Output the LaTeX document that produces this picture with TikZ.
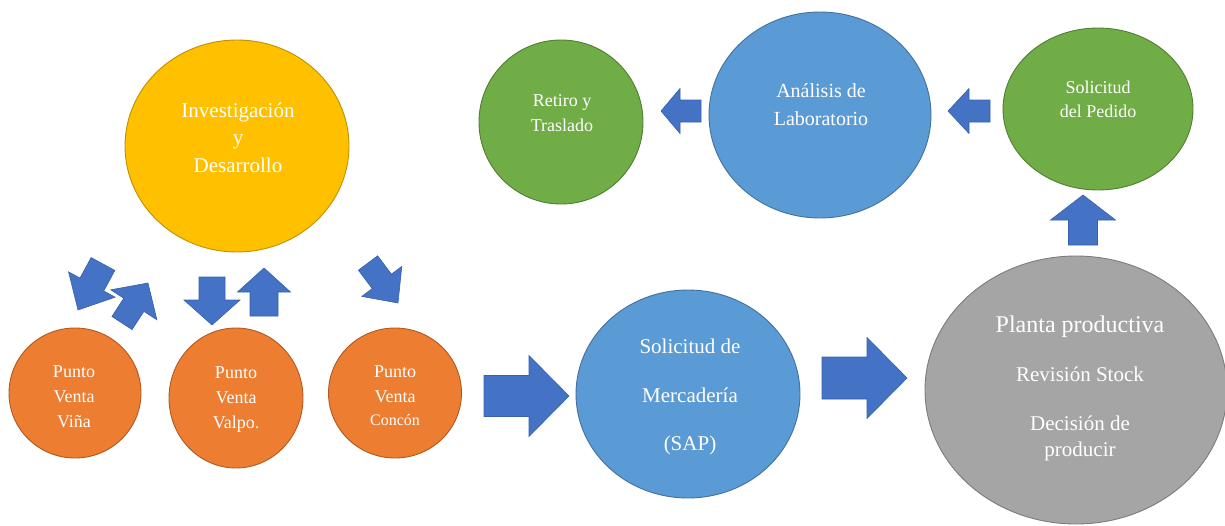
\documentclass[tikz,border=0pt]{standalone}
\usepackage{fontspec}
\setmainfont{Liberation Serif}
\usetikzlibrary{shapes.geometric,calc}

\definecolor{rdfill}{HTML}{FFC000}
\definecolor{rdedge}{HTML}{BF9000}
\definecolor{pvfill}{HTML}{ED7D31}
\definecolor{pvedge}{HTML}{AE5A21}
\definecolor{bluefill}{HTML}{5B9BD5}
\definecolor{blueedge}{HTML}{41719C}
\definecolor{greenfill}{HTML}{70AD47}
\definecolor{greenedge}{HTML}{507E32}
\definecolor{grayfill}{HTML}{A5A5A5}
\definecolor{grayedge}{HTML}{7C7C7C}
\definecolor{arrowblue}{HTML}{4472C4}
\definecolor{arrowedge}{HTML}{3760AE}

\tikzset{
  disc/.style={ellipse, inner sep=0pt, line width=0.9pt},
  lbl/.style={text=white, anchor=base, inner sep=0pt},
  arrowfill/.style={fill=arrowblue, draw=arrowedge, line width=0.6pt, line join=miter},
}

% block arrow: #1 tail, #2 tip, #3 half shaft width, #4 half head width, #5 head length
\newcommand\blockarrow[5]{%
  \coordinate (#1-hb) at ($(#2)!#5!(#1)$);
  \filldraw[arrowfill]
    ($(#1)!#3!90:(#2)$) -- ($(#1-hb)!#3!90:(#2)$) -- ($(#1-hb)!#4!90:(#2)$)
    -- (#2)
    -- ($(#1-hb)!#4!-90:(#2)$) -- ($(#1-hb)!#3!-90:(#2)$) -- ($(#1)!#3!-90:(#2)$)
    -- cycle;
}

\begin{document}
\begin{tikzpicture}[x=1pt, y=-1pt]
\useasboundingbox (0,0) rectangle (1225,525);

% circles
\node[disc, fill=rdfill, draw=rdedge, minimum width=224pt, minimum height=212pt] (rd) at (237,146) {};
\node[disc, fill=pvfill, draw=pvedge, minimum width=132pt, minimum height=130pt] (vina) at (75,393) {};
\node[disc, fill=pvfill, draw=pvedge, minimum width=134pt, minimum height=140pt] (valpo) at (236,398) {};
\node[disc, fill=pvfill, draw=pvedge, minimum width=133pt, minimum height=130pt] (concon) at (395,393) {};
\node[disc, fill=greenfill, draw=greenedge, minimum width=164pt, minimum height=164pt] (retiro) at (561,122) {};
\node[disc, fill=bluefill, draw=blueedge, minimum width=222pt, minimum height=206pt] (lab) at (820,115) {};
\node[disc, fill=greenfill, draw=greenedge, minimum width=190pt, minimum height=162pt] (pedido) at (1098,109) {};
\node[disc, fill=bluefill, draw=blueedge, minimum width=224pt, minimum height=208pt] (sap) at (688,394) {};
\node[disc, fill=grayfill, draw=grayedge, minimum width=302pt, minimum height=268pt] (planta) at (1076,390) {};

% labels
\begin{scope}[every node/.style={lbl, font=\fontsize{21}{25}\selectfont}]
  \node (rd1) at (238,117) {Investigación};
  \node (rd2) at (238,144) {y};
  \node (rd3) at (238,172) {Desarrollo};
\end{scope}
\begin{scope}[every node/.style={lbl, font=\fontsize{18}{22}\selectfont}]
  \node (v1) at (74,377) {Punto};
  \node (v2) at (74,402) {Venta};
  \node (v3) at (74,427) {Viña};
  \node (p1) at (236,378) {Punto};
  \node (p2) at (236,403) {Venta};
  \node (p3) at (236,428) {Valpo.};
  \node (c1) at (395,377) {Punto};
  \node (c2) at (395,402) {Venta};
  \node[font=\fontsize{16}{20}\selectfont] (c3) at (395,425) {Concón};
  \node (r1) at (562,106) {Retiro y};
  \node (r2) at (562,131) {Traslado};
  \node (s1) at (1098,93) {Solicitud};
  \node (s2) at (1098,117) {del Pedido};
\end{scope}
\begin{scope}[every node/.style={lbl, font=\fontsize{20}{24}\selectfont}]
  \node (l1) at (821,97) {Análisis de};
  \node (l2) at (821,125) {Laboratorio};
\end{scope}
\begin{scope}[every node/.style={lbl, font=\fontsize{21}{25}\selectfont}]
  \node (m1) at (690,353) {Solicitud de};
  \node (m2) at (690,402) {Mercadería};
  \node (m3) at (690,450) {(SAP)};
  \node[font=\fontsize{24}{28}\selectfont] (q1) at (1080,332) {Planta productiva};
  \node (q2) at (1080,381) {Revisión Stock};
  \node (q3) at (1080,430) {Decisión de};
  \node (q4) at (1080,456) {producir};
\end{scope}

% arrow end points
\coordinate (a1) at (103,264); \coordinate (a1t) at (78,310);
\coordinate (a2) at (122,323); \coordinate (a2t) at (148,283);
\coordinate (a3) at (212,277); \coordinate (a3t) at (212,325);
\coordinate (a4) at (264,316); \coordinate (a4t) at (264,268);
\coordinate (a5) at (368,263); \coordinate (a5t) at (398,303);
\coordinate (a6) at (484,396); \coordinate (a6t) at (569,396);
\coordinate (a7) at (822,378); \coordinate (a7t) at (907,378);
\coordinate (a8) at (1083,245); \coordinate (a8t) at (1083,195);
\coordinate (a9) at (701,111); \coordinate (a9t) at (661,111);
\coordinate (a10) at (990,111); \coordinate (a10t) at (948,111);

\blockarrow{a1}{a1t}{13.5pt}{26.5pt}{29pt}
\blockarrow{a2}{a2t}{12pt}{27.5pt}{26pt}
\blockarrow{a3}{a3t}{13pt}{28pt}{25pt}
\blockarrow{a4}{a4t}{14pt}{26.5pt}{24pt}
\blockarrow{a5}{a5t}{12pt}{25pt}{27pt}
\blockarrow{a6}{a6t}{20.5pt}{40.5pt}{40pt}
\blockarrow{a7}{a7t}{21pt}{40.5pt}{40pt}
\blockarrow{a8}{a8t}{14.5pt}{32.5pt}{25pt}
\blockarrow{a9}{a9t}{11pt}{22.5pt}{19pt}
\blockarrow{a10}{a10t}{11pt}{22.5pt}{21pt}
\end{tikzpicture}
\end{document}
